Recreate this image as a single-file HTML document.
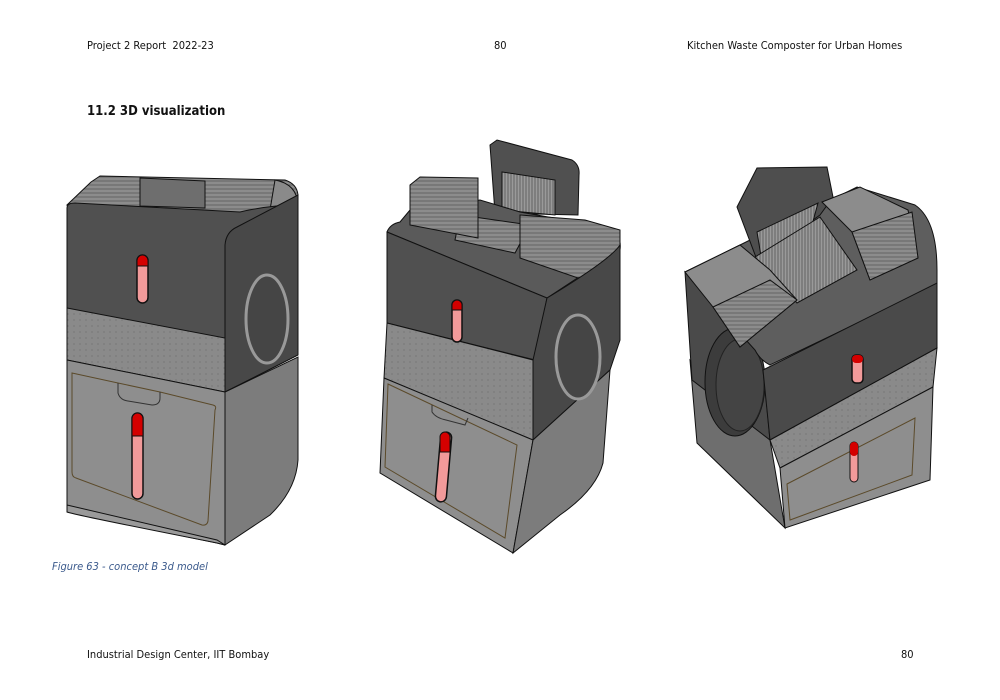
<!DOCTYPE html>
<html><head><meta charset="utf-8"><style>
body{margin:0;background:#fff;}
.pg{position:relative;width:1000px;height:700px;overflow:hidden;font-family:"DejaVu Sans Condensed","Liberation Sans",sans-serif;}
.t{position:absolute;font-size:11px;color:#111;white-space:nowrap;}
</style></head><body><div class="pg">
<div class="t" style="left:87px;top:39px">Project 2 Report&nbsp; 2022-23</div>
<div class="t" style="left:494px;top:39px">80</div>
<div class="t" style="left:687px;top:39px">Kitchen Waste Composter for Urban Homes</div>
<div class="t" style="left:87px;top:104px;font-size:13px;font-weight:bold">11.2 3D visualization</div>
<div class="t" style="left:52px;top:560px;font-style:italic;color:#3b5a8c;font-size:11px">Figure 63 - concept B 3d model</div>
<div class="t" style="left:87px;top:648px">Industrial Design Center, IIT Bombay</div>
<div class="t" style="left:901px;top:648px">80</div>
<svg width="1000" height="700" style="position:absolute;left:0;top:0" stroke="#111" stroke-width="1">
<defs>
<pattern id="dots" width="6" height="6" patternUnits="userSpaceOnUse"><rect width="6" height="6" fill="#8a8a8a" stroke="none"/><circle cx="2" cy="2" r="0.6" fill="#6a6a6a" stroke="none"/></pattern>
<pattern id="rib" width="4" height="4" patternUnits="userSpaceOnUse"><rect width="4" height="4" fill="#8c8c8c" stroke="none"/><line x1="0" y1="1" x2="4" y2="1" stroke="#5a5a5a" stroke-width="0.8"/></pattern>
<pattern id="ribv" width="3" height="3" patternUnits="userSpaceOnUse"><rect width="3" height="3" fill="#9a9a9a" stroke="none"/><line x1="1" y1="0" x2="1" y2="3" stroke="#555" stroke-width="0.8"/></pattern>
</defs>
<!-- Model 1 -->
<path d="M91,182 L100,176 L285,180 Q297,184 298,195 L298,205 L240,215 L67,205 Z" fill="url(#rib)"/>
<path d="M140,178 L205,181 L205,208 L140,206 Z" fill="#6e6e6e"/>
<path d="M275,180 Q297,184 298,205 L270,210 Z" fill="#8a8a8a"/>
<path d="M67,208 Q67,203 75,203 L240,212 Q270,205 298,205 L298,355 L225,392 L67,308 Z" fill="#505050"/>
<path d="M237,227 Q226,232 225,245 L225,392 L298,355 L298,195 Z" fill="#484848"/>
<path d="M67,308 L225,338 L225,392 L67,360 Z" fill="url(#dots)"/>
<path d="M67,360 L225,392 L225,545 L217,543 L67,512 Z" fill="#8e8e8e"/>
<path d="M67,505 L217,540 L225,545 L217,543 Q75,515 67,512 Z" fill="#9a9a9a"/>
<path d="M225,392 L298,357 L298,460 Q296,490 270,515 L225,545 Z" fill="#7c7c7c"/>
<ellipse cx="267" cy="319" rx="21" ry="44" fill="#454545" stroke="#999" stroke-width="3"/>
<path d="M72,373 L118,383 L160,392 L213,405 Q217,406 215,410 L208,521 Q207,526 202,525 L76,478 Q72,477 72,472 Z" fill="#8e8e8e" stroke="#5b4a2a"/>
<path d="M118,383 L118,393 Q120,400 128,401 L152,405 Q160,405 160,398 L160,392" fill="none" stroke="#333"/>
<rect x="137" y="255" width="11" height="48" rx="5.5" fill="#f29a9a" stroke="#111" stroke-width="1.5"/>
<path d="M137,266 L137,260.5 A5.5,5.5 0 0 1 148,260.5 L148,266 Z" fill="#d40000"/>
<rect x="132" y="413" width="11" height="86" rx="5.5" fill="#f29a9a" stroke="#111" stroke-width="1.5"/>
<path d="M132,436 L132,418.5 A5.5,5.5 0 0 1 143,418.5 L143,436 Z" fill="#d40000"/>
<!-- Model 2 -->
<path d="M490,145 L497,140 L572,160 Q580,165 579,175 L578,215 L495,213 Z" fill="#505050"/>
<path d="M502,172 L555,180 L555,215 L502,210 Z" fill="url(#ribv)"/>
<path d="M387,232 Q390,224 400,222 L410,210 L480,200 L520,212 L610,228 Q622,235 620,250 L547,298 Z" fill="#5a5a5a"/>
<path d="M460,215 L530,225 L515,253 L455,240 Z" fill="url(#rib)"/>
<path d="M410,185 L420,177 L478,178 L478,238 L410,225 Z" fill="url(#rib)"/>
<path d="M520,215 L585,220 L620,230 L620,250 Q605,270 578,278 L520,258 Z" fill="url(#rib)"/>
<path d="M387,232 L547,298 L535,360 L387,323 Z" fill="#505050"/>
<path d="M547,298 Q610,260 620,245 L620,340 L610,370 L533,440 L533,360 Z" fill="#484848"/>
<path d="M387,323 L533,360 L533,440 L384,378 Z" fill="url(#dots)"/>
<path d="M384,378 L533,440 L513,553 L380,473 Z" fill="#8e8e8e"/>
<path d="M533,440 L610,370 L603,463 Q596,490 560,515 L513,553 Z" fill="#7c7c7c"/>
<ellipse cx="578" cy="357" rx="22" ry="42" fill="#454545" stroke="#999" stroke-width="3"/>
<path d="M388,384 L517,445 L505,538 L385,467 Z" fill="#8e8e8e" stroke="#5b4a2a"/>
<path d="M432,405 L432,412 Q436,418 446,420 L465,425 L468,418" fill="none" stroke="#333"/>
<rect x="452" y="300" width="10" height="42" rx="5" fill="#f29a9a" stroke="#111" stroke-width="1.5"/>
<path d="M452,310 L452,305 A5,5 0 0 1 462,305 L462,310 Z" fill="#d40000"/>
<rect x="438" y="432" width="11" height="70" rx="5.5" fill="#f29a9a" stroke="#111" stroke-width="1.5" transform="rotate(5 444 467)"/>
<path d="M440,452 L440,437 A5,5 0 0 1 450,437 L450,452 Z" fill="#d40000"/>
<!-- Model 3 -->
<!-- lower left face -->
<path d="M690,360 L770,440 L785,528 L697,443 Z" fill="#6e6e6e"/>
<!-- upper left face -->
<path d="M685,272 L763,365 L770,440 L692,380 Z" fill="#4a4a4a"/>
<ellipse cx="735" cy="382" rx="30" ry="54" fill="#3c3c3c"/>
<ellipse cx="740" cy="385" rx="24" ry="46" fill="#444" stroke="#222"/>
<!-- top surface -->
<path d="M685,272 L740,245 L857,187 L915,205 Q937,220 937,270 L937,285 L770,365 Q760,360 755,350 Z" fill="#5e5e5e"/>
<!-- lid -->
<path d="M737,207 L757,168 L827,167 L833,197 L820,215 L757,260 Z" fill="#4e4e4e"/>
<path d="M757,232 L818,203 L812,225 L762,262 Z" fill="url(#ribv)"/>
<!-- chute -->
<path d="M755,257 L820,217 L857,270 L797,303 Z" fill="url(#ribv)"/>
<!-- right cap -->
<path d="M822,202 L860,187 L908,210 L918,258 L870,280 L852,232 Z" fill="#8c8c8c"/>
<path d="M852,232 L912,212 L918,258 L870,280 Z" fill="url(#rib)"/>
<!-- left cap -->
<path d="M685,272 L740,245 L770,270 L797,300 L740,347 L713,307 Z" fill="#8c8c8c"/>
<path d="M713,307 L770,280 L797,300 L740,347 Z" fill="url(#rib)"/>
<!-- front upper dark -->
<path d="M763,370 L937,283 L937,348 L770,440 Z" fill="#4a4a4a"/>
<path d="M770,440 L937,348 L933,387 L780,468 Z" fill="url(#dots)"/>
<path d="M780,468 L933,387 L930,480 L785,528 Z" fill="#8e8e8e"/>
<path d="M787,484 L915,418 L912,475 L790,520 Z" fill="#8e8e8e" stroke="#5b4a2a"/>
<rect x="852" y="355" width="11" height="28" rx="4" fill="#f29a9a" stroke="#111" stroke-width="1.5"/>
<rect x="852" y="355" width="11" height="8" rx="4" fill="#d40000" stroke="none"/>
<rect x="850" y="442" width="8" height="40" rx="4" fill="#f29a9a" stroke="#111" stroke-width="1"/>
<rect x="850" y="442" width="8" height="14" rx="4" fill="#d40000" stroke="none"/>
</svg>
</div></body></html>
